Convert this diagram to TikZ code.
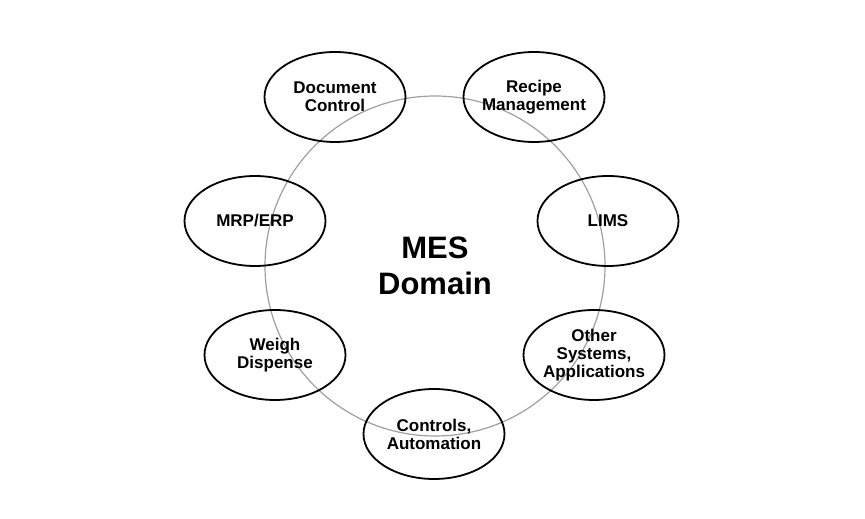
\documentclass[tikz,border=0pt]{standalone}
\usepackage{fontspec}
\setmainfont{Liberation Sans}
\usetikzlibrary{shapes.geometric}

\tikzset{
  sat/.style={draw, ellipse, line width=1.8pt, minimum width=141pt, minimum height=90pt, inner sep=0pt},
  lbl/.style={align=center, font=\bfseries\fontsize{17}{18}\selectfont, inner sep=0pt},
}

\begin{document}
\begin{tikzpicture}[x=1pt,y=1pt]
                \useasboundingbox (0,0) rectangle (865,519);
                % Domain
                \node[draw=gray!75, line width=1.2pt, circle, minimum size=340pt, inner sep=0pt] (mes) at (435,253) {};
                \node[align=center, font=\bfseries\fontsize{31}{36}\selectfont] (mestext) at (mes) {MES\\Domain};
                
                % Systems
                \node[sat] (doc) at (335,422) {};
                \node[sat] (recipe) at (534,422) {};
                \node[sat] (mrp) at (255,298) {};
                \node[sat] (lims) at (608,298) {};
                \node[sat] (weigh) at (275,164) {};
                \node[sat] (other) at (594,164) {};
                \node[sat] (ctrl) at (434,85) {};
                
                % Labels
                \node[lbl] at (doc) {Document\\Control};
                \node[lbl] at (recipe) {Recipe\\Management};
                \node[lbl] at (mrp) {MRP/ERP};
                \node[lbl] at (lims) {LIMS};
                \node[lbl] at (weigh) {Weigh\\Dispense};
                \node[lbl] at (other) {Other\\Systems,\\Applications};
                \node[lbl] at (ctrl) {Controls,\\Automation};
            \end{tikzpicture}
\end{document}
